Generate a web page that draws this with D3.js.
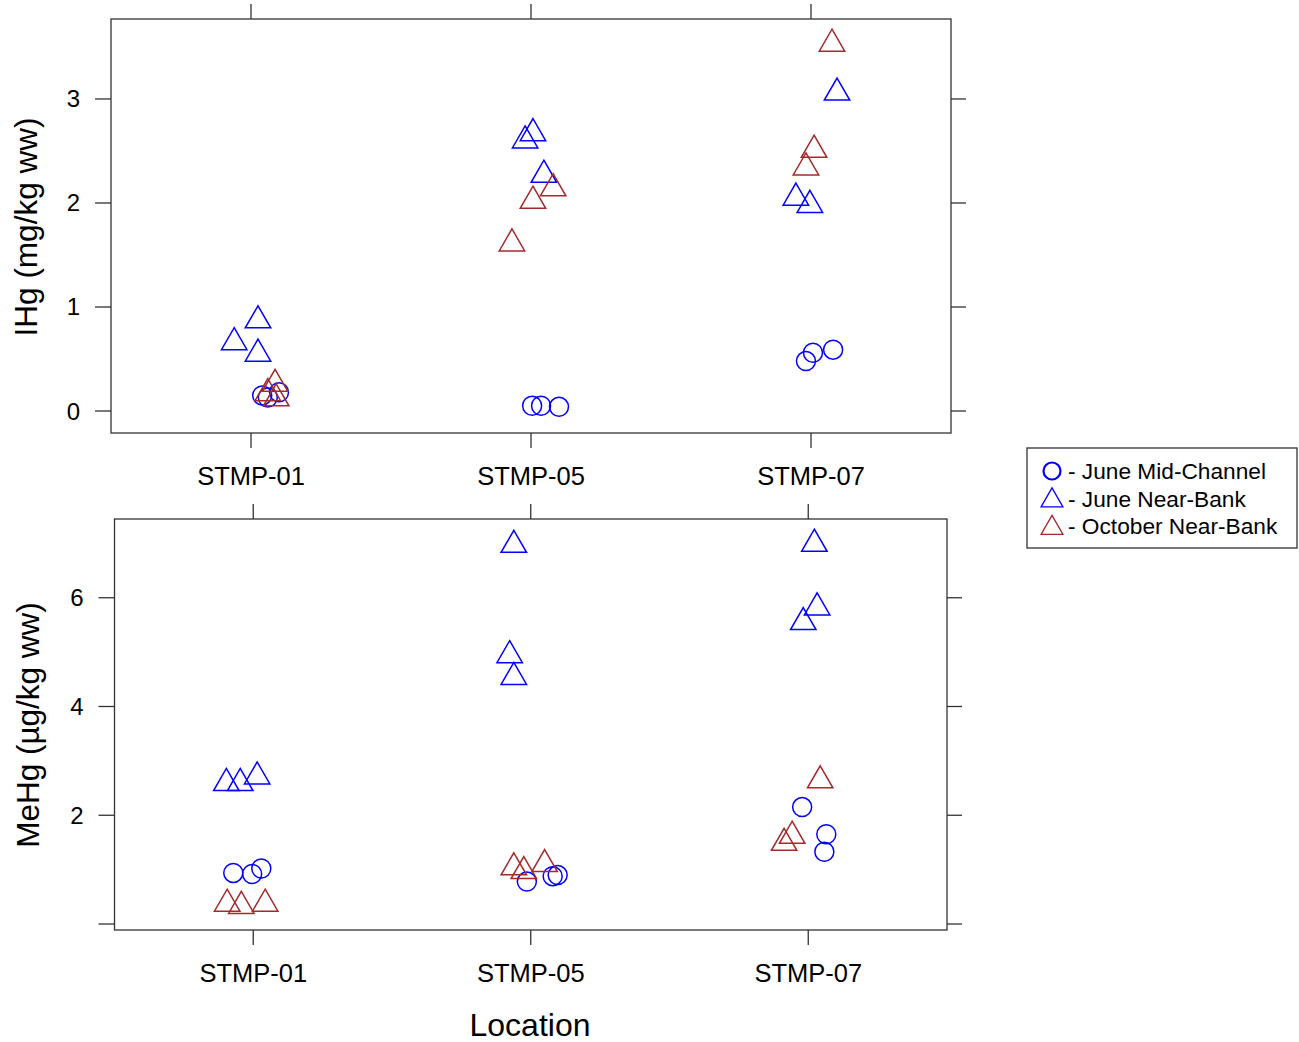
<!DOCTYPE html>
<html>
<head>
<meta charset="utf-8">
<script src="https://cdn.jsdelivr.net/npm/d3@7"></script>
<style>
  html, body { margin: 0; padding: 0; background: #fff; }
  svg { display: block; font-family: "Liberation Sans", Arial, sans-serif; }
</style>
</head>
<body>
<svg id="chart" width="1299" height="1042"></svg>
<script>
// ---------------- DATA ----------------
const sites = ["STMP-01", "STMP-05", "STMP-07"];
const groups = ["June Mid-Channel", "June Near-Bank", "October Near-Bank"];
const groupColors = ["#0000FF", "#0000FF", "#A52A2A"];
const groupShapes = ["circle", "triangle", "triangle"];

// IHg (mg/kg ww) — top panel; one inner array per site
const ihgJuneMid   = [[0.15, 0.13, 0.18], [0.05, 0.05, 0.04], [0.48, 0.56, 0.59]];
const ihgJuneMidJ  = [[0.04, 0.06, 0.10], [0.004, 0.036, 0.10], [-0.018, 0.007, 0.079]];
const ihgJuneNear  = [[0.87, 0.66, 0.55], [2.67, 2.60, 2.27], [3.06, 2.05, 1.98]];
const ihgJuneNearJ = [[0.025, -0.06, 0.025], [0.007, -0.021, 0.046], [0.093, -0.054, -0.004]];
const ihgOctNear   = [[0.26, 0.17, 0.12], [2.14, 2.02, 1.61], [3.53, 2.51, 2.34]];
const ihgOctNearJ  = [[0.086, 0.06, 0.09], [0.079, 0.007, -0.068], [0.075, 0.011, -0.018]];

// MeHg (µg/kg ww) — bottom panel
const mehgJuneMid   = [[0.94, 0.92, 1.02], [0.78, 0.88, 0.90], [2.15, 1.65, 1.33]];
const mehgJuneMidJ  = [[-0.072, -0.004, 0.029], [-0.014, 0.079, 0.097], [-0.022, 0.065, 0.058]];
const mehgJuneNear  = [[2.59, 2.59, 2.71], [6.97, 4.94, 4.54], [6.99, 5.82, 5.55]];
const mehgJuneNearJ = [[-0.097, -0.047, 0.014], [-0.061, -0.076, -0.061], [0.022, 0.032, -0.018]];
const mehgOctNear   = [[0.37, 0.33, 0.37], [1.04, 0.97, 1.10], [2.64, 1.62, 1.49]];
const mehgOctNearJ  = [[-0.094, -0.043, 0.043], [-0.061, -0.025, 0.05], [0.043, -0.058, -0.087]];

const ihgTicks = [0, 1, 2, 3];
const ihgTickLabels = ["0", "1", "2", "3"];
const mehgTicks = [0, 2, 4, 6];
const mehgTickLabels = ["", "2", "4", "6"];

const ihgTitle = "IHg (mg/kg ww)";
const mehgTitle = "MeHg (µg/kg ww)";
const xTitle = "Location";

// ---------------- DRAW ----------------
const svg = d3.select("#chart");
const frameColor = "#333";

function buildPoints(seriesList) {
  const pts = [];
  seriesList.forEach((s, gi) => {
    s.vals.forEach((arr, si) => {
      arr.forEach((v, k) => {
        pts.push({ g: gi, site: si, v: v, j: s.jit[si][k] });
      });
    });
  });
  return pts;
}

function triPath(cx, cy, h) {
  // h: distance centroid -> base; apex at 2h above
  const s3 = Math.sqrt(3);
  return `M${cx},${cy - 2 * h}L${cx + s3 * h},${cy + h}L${cx - s3 * h},${cy + h}Z`;
}

function panel(opts) {
  const { x0, x1, y0, y1, yDomain, ticks, tickLabels, title, titleX, titleY, pts } = opts;
  const x = d3.scaleLinear().domain([0.5, 3.5]).range([x0, x1]);
  const y = d3.scaleLinear().domain(yDomain).range([y1, y0]);
  const g = svg.append("g");

  // frame
  g.append("rect").attr("x", x0).attr("y", y0).attr("width", x1 - x0).attr("height", y1 - y0)
    .attr("fill", "none").attr("stroke", frameColor).attr("stroke-width", 1.3);

  const tl = 15;
  // left/right ticks
  ticks.forEach((t, i) => {
    const yy = y(t);
    g.append("line").attr("x1", x0 - tl - 1).attr("x2", x0).attr("y1", yy).attr("y2", yy)
      .attr("stroke", frameColor).attr("stroke-width", 1.3);
    g.append("line").attr("x1", x1).attr("x2", x1 + tl).attr("y1", yy).attr("y2", yy)
      .attr("stroke", frameColor).attr("stroke-width", 1.3);
    if (tickLabels[i] !== "") {
      g.append("text").attr("x", x0 - 31).attr("y", yy + 8.5).attr("text-anchor", "end")
        .attr("font-size", 24).attr("fill", "#000").text(tickLabels[i]);
    }
  });
  // top/bottom ticks
  sites.forEach((s, i) => {
    const xx = x(i + 1);
    g.append("line").attr("x1", xx).attr("x2", xx).attr("y1", y0 - tl).attr("y2", y0)
      .attr("stroke", frameColor).attr("stroke-width", 1.3);
    g.append("line").attr("x1", xx).attr("x2", xx).attr("y1", y1).attr("y2", y1 + tl)
      .attr("stroke", frameColor).attr("stroke-width", 1.3);
    g.append("text").attr("x", xx).attr("y", y1 + 52).attr("text-anchor", "middle")
      .attr("font-size", 25.5).attr("fill", "#000").text(s);
  });

  // y title
  g.append("text").attr("transform", `translate(${titleX},${titleY}) rotate(-90)`)
    .attr("text-anchor", "middle").attr("font-size", 31.5).attr("fill", "#000").text(title);

  // points
  const mk = g.append("g");
  pts.forEach(p => {
    const cx = x(p.site + 1 + p.j), cy = y(p.v);
    if (groupShapes[p.g] === "circle") {
      mk.append("circle").attr("cx", cx).attr("cy", cy).attr("r", 9.5)
        .attr("fill", "none").attr("stroke", groupColors[p.g]).attr("stroke-width", 1.5);
    } else {
      mk.append("path").attr("d", triPath(cx, cy, 7.35))
        .attr("fill", "none").attr("stroke", groupColors[p.g]).attr("stroke-width", 1.5);
    }
  });
}

panel({
  x0: 111, x1: 951, y0: 19, y1: 433,
  yDomain: [-0.2115, 3.769],
  ticks: ihgTicks, tickLabels: ihgTickLabels,
  title: ihgTitle, titleX: 37, titleY: 227,
  pts: buildPoints([
    { vals: ihgJuneMid, jit: ihgJuneMidJ },
    { vals: ihgJuneNear, jit: ihgJuneNearJ },
    { vals: ihgOctNear, jit: ihgOctNearJ }
  ])
});

panel({
  x0: 114.5, x1: 947, y0: 519, y1: 930,
  yDomain: [-0.110, 7.448],
  ticks: mehgTicks, tickLabels: mehgTickLabels,
  title: mehgTitle, titleX: 38.5, titleY: 725,
  pts: buildPoints([
    { vals: mehgJuneMid, jit: mehgJuneMidJ },
    { vals: mehgJuneNear, jit: mehgJuneNearJ },
    { vals: mehgOctNear, jit: mehgOctNearJ }
  ])
});

// x title
svg.append("text").attr("x", 530).attr("y", 1036).attr("text-anchor", "middle")
  .attr("font-size", 32).attr("fill", "#000").text(xTitle);

// legend
const lg = svg.append("g");
lg.append("rect").attr("x", 1027).attr("y", 448).attr("width", 270).attr("height", 100)
  .attr("fill", "#fff").attr("stroke", frameColor).attr("stroke-width", 1.3);
groups.forEach((name, i) => {
  const cy = 471 + i * 27.5;
  if (groupShapes[i] === "circle") {
    lg.append("circle").attr("cx", 1052).attr("cy", cy).attr("r", 8.5)
      .attr("fill", "none").attr("stroke", groupColors[i]).attr("stroke-width", 2.2);
  } else {
    lg.append("path").attr("d", triPath(1052, cy + 2, 6.3))
      .attr("fill", "none").attr("stroke", groupColors[i]).attr("stroke-width", 1.3);
  }
  lg.append("text").attr("x", 1068).attr("y", cy + 8).attr("font-size", 22.7).attr("fill", "#000")
    .text("- " + name);
});
</script>
</body>
</html>
